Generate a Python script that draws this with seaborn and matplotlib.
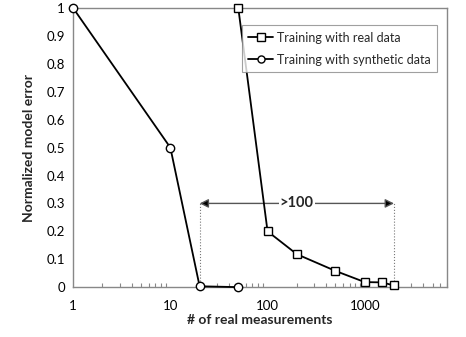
import matplotlib
matplotlib.use("Agg")
import matplotlib.pyplot as plt
import seaborn as sns
import pandas as pd

real_x = [50, 100, 200, 500, 1000, 1500, 2000]
real_y = [1.0, 0.2, 0.118, 0.058, 0.018, 0.017, 0.006]
syn_x = [1, 10, 20, 50]
syn_y = [1.0, 0.5, 0.003, 0.0]
y_ticks = [0, 0.1, 0.2, 0.3, 0.4, 0.5, 0.6, 0.7, 0.8, 0.9, 1]
x_ticks = [1, 10, 100, 1000]
arrow_from, arrow_to, arrow_y = 20, 2000, 0.3
arrow_text = ">100"

sns.set_theme(style="white")
plt.rcParams['font.family'] = ['Lato', 'DejaVu Sans']

df = pd.concat([
    pd.DataFrame({"x": real_x, "y": real_y, "s": "Training with real data"}),
    pd.DataFrame({"x": syn_x, "y": syn_y, "s": "Training with synthetic data"}),
])

fig = plt.figure(figsize=(4.66, 3.37), dpi=100)
ax = fig.add_axes([0.157, 0.148, 0.802, 0.828])

sns.lineplot(data=df, x="x", y="y", hue="s", style="s",
             markers={"Training with real data": "s", "Training with synthetic data": "o"},
             dashes=False, palette={"Training with real data": "black", "Training with synthetic data": "black"},
             markerfacecolor="white", markeredgecolor="black", markeredgewidth=1.0,
             markersize=6, linewidth=1.3, ax=ax, clip_on=False, zorder=5, sort=False)

ax.set_xscale("log")
ax.set_xlim(1, 7000)
ax.set_ylim(0, 1)
ax.set_yticks(y_ticks)
ax.set_yticklabels([f"{v:g}" for v in y_ticks])
ax.set_xticks(x_ticks)
ax.set_xticklabels([str(v) for v in x_ticks])
ax.tick_params(axis="both", which="both", direction="in", labelsize=9.5, colors="#333333", labelcolor="black")
ax.tick_params(axis="x", which="major", length=0, pad=9)
ax.tick_params(axis="x", which="minor", length=3, width=0.8, color="#888888", bottom=True)
ax.tick_params(axis="y", which="major", length=3, width=0.8, color="#888888", pad=6)
for sp in ax.spines.values():
    sp.set_color("#888888")
    sp.set_linewidth(1.0)

ax.set_xlabel("# of real measurements", fontsize=10, fontweight="bold", labelpad=2)
ax.set_ylabel("Normalized model error", fontsize=10, fontweight="bold", labelpad=8)

# annotation
ax.plot([arrow_from, arrow_from], [0, arrow_y], ls=":", color="#777777", lw=0.8, zorder=2)
ax.plot([arrow_to, arrow_to], [0, arrow_y], ls=":", color="#777777", lw=0.8, zorder=2)
ax.annotate("", xy=(arrow_from, arrow_y), xytext=(arrow_to, arrow_y),
            arrowprops=dict(arrowstyle="<|-|>", color="#555555", lw=1.0,
                            shrinkA=0, shrinkB=0, mutation_scale=13,
                            fc="black"), zorder=3)
ax.text((arrow_from * arrow_to) ** 0.5, arrow_y, arrow_text, ha="center", va="center",
        fontsize=10.5, fontweight="bold", zorder=4,
        bbox=dict(facecolor="white", edgecolor="none", pad=0.5))

leg = ax.legend(loc="upper right", bbox_to_anchor=(0.99, 0.96), fontsize=9,
                frameon=True, fancybox=False, edgecolor="#888888",
                handlelength=2.0, borderpad=0.5, labelspacing=0.8, handletextpad=0.3,
                markerscale=0.85)
leg.get_frame().set_linewidth(0.8)
leg.set_title(None)

fig.savefig("out.png", dpi=100)
